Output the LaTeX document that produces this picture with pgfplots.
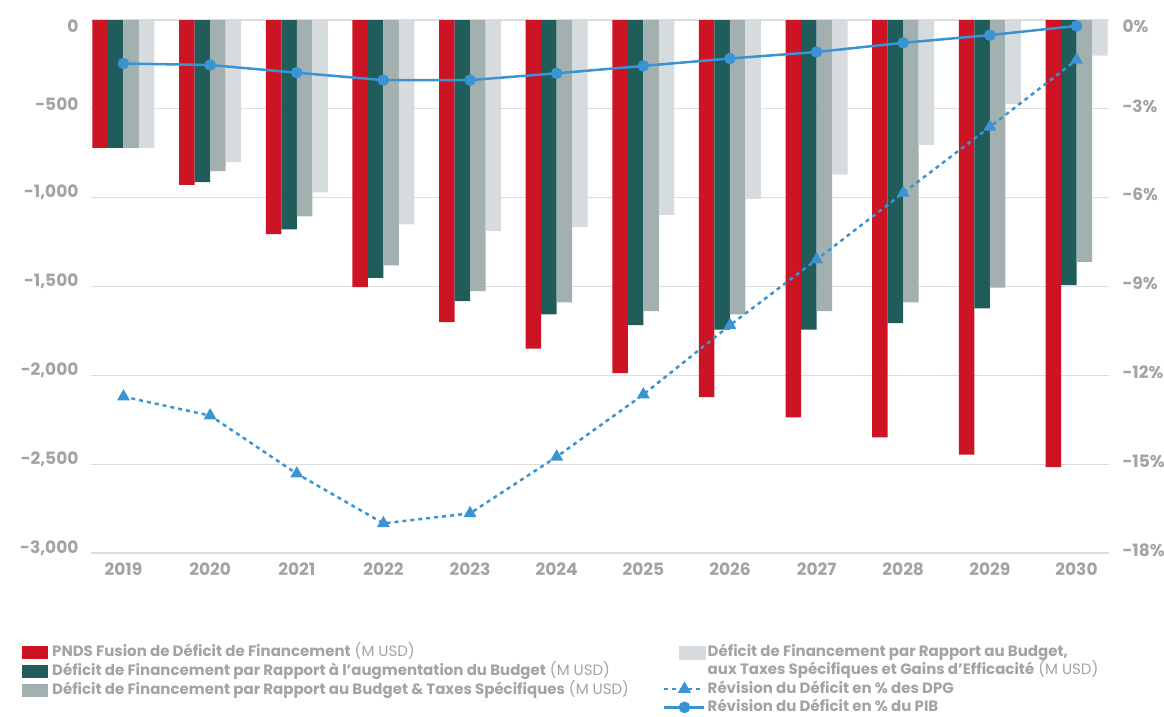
\documentclass[border=0pt]{standalone}
\usepackage{fontspec}
\setmainfont{Poppins}
\usepackage{pgfplots}
\pgfplotsset{compat=1.18}
\definecolor{cred}{HTML}{CC1424}
\definecolor{cdark}{HTML}{1F5C5A}
\definecolor{cmid}{HTML}{A2B0AF}
\definecolor{clight}{HTML}{D6DCDE}
\definecolor{cblue}{HTML}{3A94D4}
\definecolor{ctext}{HTML}{A3A3A3}
\definecolor{cgrid}{HTML}{DDDDDD}
\pgfplotsset{
  barleg/.style={legend image code/.code={\fill[##1] (0pt,-6.5pt) rectangle (26pt,6.5pt);}},
  lightleg/.style={legend image code/.code={\fill[clight] (15pt,-6.5pt) rectangle (41pt,6.5pt);}},
  lineleg/.style={legend image code/.code={\draw[mark repeat=2,mark phase=2,##1] plot coordinates {(0pt,0pt) (20pt,0pt) (40pt,0pt)};}},
  mylegend/.style={legend style={draw=none, fill=none, inner sep=0pt,
    font=\fontsize{15}{18}\selectfont, text=ctext, row sep=5.5pt,
    nodes={inner ysep=0pt, text height=11pt, text depth=2.5pt}}, legend cell align=left},
}
\begin{document}
\begin{tikzpicture}
\useasboundingbox (-91pt,-163pt) rectangle (1073pt,553pt);
\begin{axis}[
  at={(0pt,0pt)}, anchor=south west,
  scale only axis, width=1018pt, height=533pt,
  xmin=-0.375, xmax=11.375, ymin=-3000, ymax=0,
  ybar=0pt, bar width=15.5pt,
  xtick={0,...,11},
  xticklabels={2019,2020,2021,2022,2023,2024,2025,2026,2027,2028,2029,2030},
  ytick={-3000,-2500,-2000,-1500,-1000,-500},
  yticklabels={{-3,000},{-2,500},{-2,000},{-1,500},{-1,000},{-500}},
  extra y ticks={0}, extra y tick labels={0},
  extra y tick style={yticklabel style={yshift=-11pt}},
  axis line style={draw=none}, major tick style={draw=none},
  ymajorgrids, grid style={cgrid, line width=1.2pt},
  ticklabel style={font=\fontsize{17}{20}\selectfont\bfseries, text=ctext},
  yticklabel style={yshift=5pt, xshift=-9pt},
  xticklabel style={yshift=-2pt},
  mylegend,
  legend style={at={(-0.0678,-0.1735)}, anchor=north west, column sep=2pt},
  barleg,
]
\addplot[fill=cred, draw=none] coordinates {(0,-720) (1,-928) (2,-1205) (3,-1503) (4,-1700) (5,-1850) (6,-1988) (7,-2123) (8,-2236) (9,-2349) (10,-2446) (11,-2517)};
\addlegendentry{\textbf{PNDS Fusion de Déficit de Financement} (M USD)}
\addplot[fill=cdark, draw=none] coordinates {(0,-720) (1,-913) (2,-1178) (3,-1452) (4,-1582) (5,-1657) (6,-1717) (7,-1742) (8,-1742) (9,-1706) (10,-1623) (11,-1492)};
\addlegendentry{\textbf{Déficit de Financement par Rapport à l'augmentation du Budget} (M USD)}
\addplot[fill=cmid, draw=none] coordinates {(0,-720) (1,-851) (2,-1105) (3,-1381) (4,-1526) (5,-1590) (6,-1639) (7,-1657) (8,-1639) (9,-1590) (10,-1507) (11,-1362)};
\addlegendentry{\textbf{Déficit de Financement par Rapport au Budget \& Taxes Spécifiques} (M USD)}
\addplot[fill=clight, draw=none] coordinates {(0,-720) (1,-800) (2,-970) (3,-1150) (4,-1188) (5,-1165) (6,-1097) (7,-1007) (8,-870) (9,-703) (10,-473) (11,-201)};
\end{axis}
\begin{axis}[
  at={(0pt,0pt)}, anchor=south west,
  scale only axis, width=1018pt, height=533pt,
  xmin=-0.375, xmax=11.375, ymin=-18, ymax=0,
  xtick=\empty, yticklabel pos=right,
  ytick={-18,-15,-12,-9,-6,-3},
  yticklabels={{-18\%},{-15\%},{-12\%},{-9\%},{-6\%},{-3\%}},
  extra y ticks={0}, extra y tick labels={0\%},
  extra y tick style={yticklabel style={yshift=-9pt}},
  axis line style={draw=none}, major tick style={draw=none},
  ticklabel style={font=\fontsize{17}{20}\selectfont\bfseries, text=ctext},
  yticklabel style={yshift=3pt, xshift=10pt},
  mylegend,
  legend style={at={(0.5619,-0.1735)}, anchor=north west, row sep=4.8pt},
]
\addlegendimage{lightleg}
\addlegendentry{\textbf{Déficit de Financement par Rapport au Budget,}}
\addlegendimage{empty legend}
\addlegendentry{\textbf{aux Taxes Spécifiques et Gains d'Efficacité} (M USD)}
\addplot[cblue, line width=2.5pt, dash pattern=on 4pt off 4pt, mark=triangle*, mark size=5pt, mark options={solid}, lineleg]
  coordinates {(0,-12.72) (1,-13.36) (2,-15.32) (3,-17.0) (4,-16.66) (5,-14.75) (6,-12.65) (7,-10.31) (8,-8.09) (9,-5.84) (10,-3.61) (11,-1.35)};
\addlegendentry{\textbf{Révision du Déficit en \% des DPG}}
\addplot[cblue, line width=2.5pt, mark=*, mark size=4.5pt, lineleg]
  coordinates {(0,-1.47) (1,-1.52) (2,-1.78) (3,-2.03) (4,-2.03) (5,-1.80) (6,-1.55) (7,-1.30) (8,-1.08) (9,-0.77) (10,-0.51) (11,-0.20)};
\addlegendentry{\textbf{Révision du Déficit en \% du PIB}}
\end{axis}
\end{tikzpicture}
\end{document}
